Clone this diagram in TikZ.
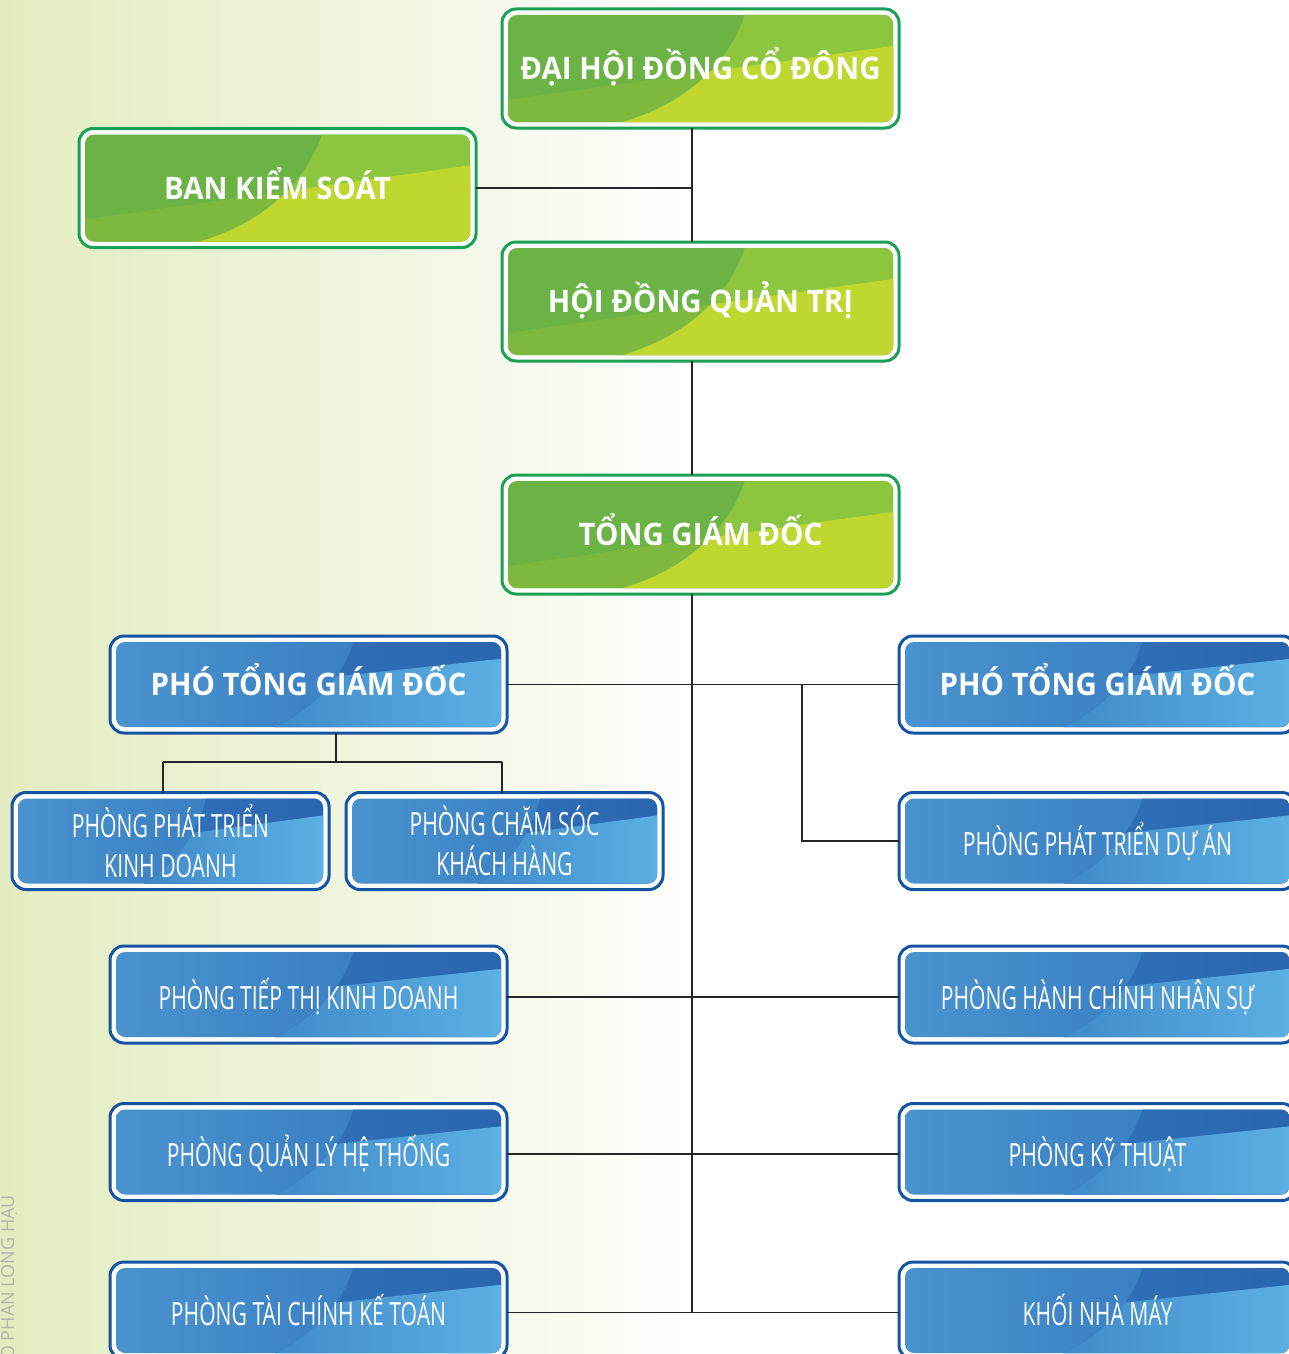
\documentclass[tikz,border=0pt]{standalone}
\usepackage{fontspec}
\usetikzlibrary{calc}
\setmainfont{Open Sans}
\newfontfamily\headfont[FakeStretch=0.95]{Open Sans}
\newfontfamily\deptfont[FakeStretch=0.66]{Open Sans}
\newfontfamily\sidefont{Open Sans}

\definecolor{bgLeft}{HTML}{E3ECC0}
\definecolor{gA}{HTML}{6AB344}
\definecolor{gB}{HTML}{8CC63F}
\definecolor{gC}{HTML}{7DB93E}
\definecolor{gD}{HTML}{C0D72F}
\definecolor{gEdge}{HTML}{1BA156}
\definecolor{bEdge}{HTML}{1454A3}
\definecolor{bA}{HTML}{4A93CF}
\definecolor{bB}{HTML}{3174BB}
\definecolor{bC}{HTML}{2A65AF}
\definecolor{bD}{HTML}{3E86C7}
\definecolor{bE}{HTML}{5DB1E4}
\definecolor{sideGrey}{HTML}{B3B7A6}

\pgfdeclarelayer{wash}
\pgfdeclarelayer{faces}
\pgfsetlayers{wash,faces,main}

% green face behind a frame node: #1 node, #2 width, #3 height
\newcommand{\greenface}[3]{%
  \begin{scope}[shift={(#1.north west)}, sharp corners]
    \fill[white, rounded corners=14pt] (0,0) rectangle (#2,#3);
    \begin{scope}
      \clip[rounded corners=9pt] (6,6) rectangle ({#2-6},{#3-6});
      \fill[gA] (0,0) rectangle (#2,#3);
      \fill[gB] ({6+0.62*(#2-12)},0) .. controls ({6+0.58*(#2-12)},{0.45*#3}) and ({6+0.45*(#2-12)},{0.9*#3}) .. ({6+0.2*(#2-12)},{#3+2}) -- (#2,{#3+2}) -- (#2,0) -- cycle;
      \clip (0,{6+0.8*(#3-12)}) -- (#2,{6+0.28*(#3-12)}) -- (#2,#3) -- (0,#3) -- cycle;
      \fill[gC] (0,0) rectangle (#2,#3);
      \fill[gD] ({6+0.62*(#2-12)},0) .. controls ({6+0.58*(#2-12)},{0.45*#3}) and ({6+0.45*(#2-12)},{0.9*#3}) .. ({6+0.2*(#2-12)},{#3+2}) -- (#2,{#3+2}) -- (#2,0) -- cycle;
    \end{scope}
  \end{scope}}

% blue face behind a frame node: #1 node, #2 width, #3 height
\newcommand{\blueface}[3]{%
  \begin{scope}[shift={(#1.north west)}, sharp corners]
    \fill[white, rounded corners=14pt] (0,0) rectangle (#2,#3);
    \begin{scope}
      \clip[rounded corners=9pt] (6,6) rectangle ({#2-6},{#3-6});
      \shade[left color=bA, right color=bB] (0,0) rectangle (#2,#3);
      \shade[left color=bB, right color=bC] ({6+0.62*(#2-12)},0) .. controls ({6+0.6*(#2-12)},{0.4*#3}) and ({6+0.5*(#2-12)},{0.85*#3}) .. ({6+0.36*(#2-12)},{#3+2}) -- (#2,{#3+2}) -- (#2,0) -- cycle;
      \clip (0,{6+0.69*(#3-12)}) -- (#2,{6+0.19*(#3-12)}) -- (#2,#3) -- (0,#3) -- cycle;
      \shade[left color=bD, right color=bE] ({6+0.62*(#2-12)},0) .. controls ({6+0.6*(#2-12)},{0.4*#3}) and ({6+0.5*(#2-12)},{0.85*#3}) .. ({6+0.36*(#2-12)},{#3+2}) -- (#2,{#3+2}) -- (#2,0) -- cycle;
    \end{scope}
  \end{scope}}

% two centred lines with fixed cap height and line pitch
\newcommand{\twolines}[2]{%
  \vbox{\offinterlineskip\halign{\hfil##\hfil\cr
    \vrule height23pt depth0pt width0pt #1\cr
    \vrule height40pt depth0pt width0pt #2\cr}}}

\tikzset{
  frame/.style={line width=3pt, rounded corners=14pt, inner sep=0pt, outer sep=0pt, text=white},
  greenbox/.style={frame, draw=gEdge, minimum width=397pt, minimum height=119pt,
    font=\headfont\bfseries\fontsize{31}{31}\selectfont, text height=22pt, text depth=0pt},
  bluehead/.style={frame, draw=bEdge, minimum width=397pt, minimum height=97pt,
    font=\headfont\bfseries\fontsize{31}{31}\selectfont, text height=22pt, text depth=0pt},
  bluedept/.style={frame, draw=bEdge, minimum width=397pt, minimum height=97pt,
    font=\deptfont\fontsize{32}{40}\selectfont, text height=29pt, text depth=0pt},
  bluesmall/.style={frame, draw=bEdge, minimum width=317pt, minimum height=97pt,
    font=\deptfont\fontsize{32}{40}\selectfont},
  conn/.style={draw=black!85, line width=1.2pt}
}

\begin{document}
\begin{tikzpicture}[x=1pt, y=-1pt]
  % page and background wash
  \useasboundingbox (0,0) rectangle (1288,1354);
  \begin{pgfonlayer}{wash}
    \fill[white] (0,0) rectangle (1288,1354);
    \shade[left color=bgLeft, right color=white] (0,0) rectangle (720,1354);
  \end{pgfonlayer}

  % side caption
  \node[rotate=90, anchor=base east, inner sep=0pt, text=sideGrey,
        font=\sidefont\fontsize{18}{18}\selectfont] (caption) at (14,1195) {CỔ PHẦN LONG HẬU};

  % routing points
  \coordinate (spine) at (692,0);
  \coordinate (branch) at (802,0);
  \coordinate (hub) at (336,762);
  \coordinate (legA) at (163,762);
  \coordinate (legB) at (502,762);

  % boxes
  \node[greenbox] (dhdcd) at (700.5,68.5) {ĐẠI HỘI ĐỒNG CỔ ĐÔNG};
  \node[greenbox] (bks)   at (277.5,188)  {BAN KIỂM SOÁT};
  \node[greenbox] (hdqt)  at (700.5,301.5) {HỘI ĐỒNG QUẢN TRỊ};
  \node[greenbox] (tgd)   at (700.5,534.5) {TỔNG GIÁM ĐỐC};

  \node[bluehead] (ptgdL) at (308.5,684.5) {PHÓ TỔNG GIÁM ĐỐC};
  \node[bluehead] (ptgdR) at (1097.5,684.5) {PHÓ TỔNG GIÁM ĐỐC};

  \node[bluesmall] (pptkd) at (170.5,841) {\twolines{PHÒNG PHÁT TRIỂN}{KINH DOANH}};
  \node[bluesmall] (pcskh) at (504.5,841) {\twolines{PHÒNG CHĂM SÓC}{KHÁCH HÀNG}};
  \node[bluedept] (pptda) at (1097.5,841) {PHÒNG PHÁT TRIỂN DỰ ÁN};

  \node[bluedept] (pttkd) at (308.5,994.5) {PHÒNG TIẾP THỊ KINH DOANH};
  \node[bluedept] (phcns) at (1097.5,994.5) {PHÒNG HÀNH CHÍNH NHÂN SỰ};
  \node[bluedept] (pqlht) at (308.5,1152) {PHÒNG QUẢN LÝ HỆ THỐNG};
  \node[bluedept] (pkt)   at (1097.5,1152) {PHÒNG KỸ THUẬT};
  \node[bluedept] (ptckt) at (308.5,1310.5) {PHÒNG TÀI CHÍNH KẾ TOÁN};
  \node[bluedept] (knm)   at (1097.5,1310.5) {KHỐI NHÀ MÁY};

  % box faces, painted beneath the frames and their titles
  \begin{pgfonlayer}{faces}
    \foreach \n in {dhdcd,bks,hdqt,tgd} {\greenface{\n}{397}{119}}
    \foreach \n in {ptgdL,ptgdR,pptda,pttkd,phcns,pqlht,pkt,ptckt,knm} {\blueface{\n}{397}{97}}
    \foreach \n in {pptkd,pcskh} {\blueface{\n}{317}{97}}
  \end{pgfonlayer}

  % connectors
  \draw[conn] (dhdcd.south -| spine) -- (hdqt.north -| spine);
  \draw[conn] (bks.east) -- (bks.east -| spine);
  \draw[conn] (hdqt.south -| spine) -- (tgd.north -| spine);
  \draw[conn] (tgd.south -| spine) -- ([yshift=-2pt]ptckt.east -| spine);
  \draw[conn] (ptgdL.east) -- (ptgdR.west);
  \draw[conn] (ptgdL.east -| branch) |- (pptda.west);
  \draw[conn] ([yshift=-2.5pt]pttkd.east) -- ([yshift=-2.5pt]phcns.west);
  \draw[conn] ([yshift=-2pt]pqlht.east) -- ([yshift=-2pt]pkt.west);
  \draw[conn] ([yshift=-2pt]ptckt.east) -- ([yshift=-2pt]knm.west);

  \draw[conn] (ptgdL.south -| hub) -- (hub);
  \draw[conn] (legA) -- (legB);
  \draw[conn] (legA) -- (pptkd.north -| legA);
  \draw[conn] (legB) -- (pcskh.north -| legB);
\end{tikzpicture}
\end{document}
